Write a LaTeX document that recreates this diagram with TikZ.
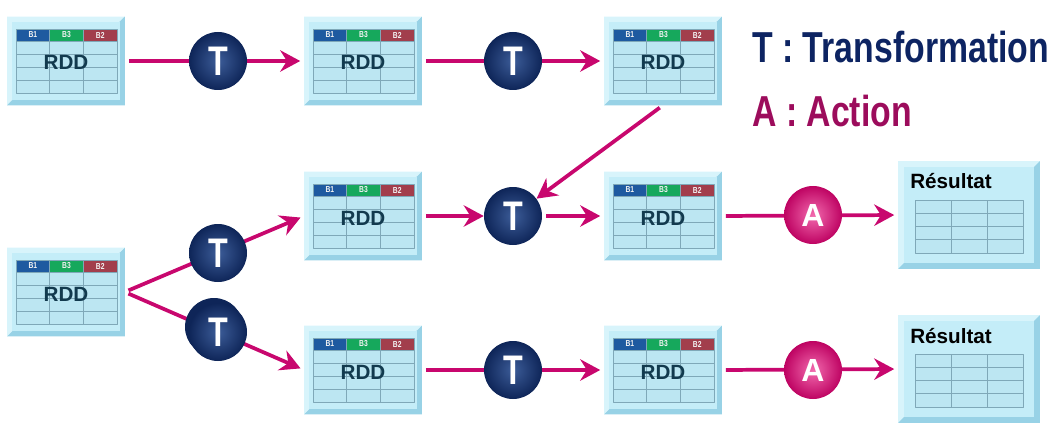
\documentclass[tikz,border=0pt]{standalone}
\usepackage{fontspec}
\setmainfont{Liberation Sans}
\newfontfamily\narrowsans[FakeStretch=0.78]{Liberation Sans}
\usetikzlibrary{arrows.meta,backgrounds,calc}
\definecolor{rddframe}{HTML}{B4E4F2}
\definecolor{rddlight}{HTML}{D8F4FB}
\definecolor{rdddark}{HTML}{98D2E6}
\definecolor{rddface}{HTML}{C4EDF8}
\definecolor{rddcell}{HTML}{BCE6F2}
\definecolor{rddline}{HTML}{7FA8B8}
\definecolor{rddtext}{HTML}{123A4E}
\definecolor{hblue}{HTML}{1E5AA0}
\definecolor{hgreen}{HTML}{16A85C}
\definecolor{hred}{HTML}{A23E4C}
\definecolor{flowpink}{HTML}{C8076E}
\definecolor{tinner}{HTML}{3C5C98}
\definecolor{touter}{HTML}{0E2558}
\definecolor{ainner}{HTML}{F26AAE}
\definecolor{aouter}{HTML}{BE0362}
\definecolor{legT}{HTML}{0D2462}
\definecolor{legA}{HTML}{9C0C5C}
\begin{document}
\begin{tikzpicture}[x=0.75pt,y=-0.75pt,>={Stealth[length=15pt,width=16pt,inset=5pt]},line join=round]
	\tikzset{
		rdd/.style={rectangle,minimum width=117*0.75pt,minimum height=88*0.75pt,inner sep=0pt,fill=rddframe},
		res/.style={rdd,minimum width=141*0.75pt,minimum height=107*0.75pt},
		cell/.style={fill=rddcell,draw=rddline,line width=0.5pt},
		hdr/.style={minimum width=33.7*0.75pt,minimum height=12*0.75pt,inner sep=0pt,draw=rddline,line width=0.5pt,text=white!90!gray,font=\narrowsans\bfseries\fontsize{6.5}{7}\selectfont},
		flow/.style={->,draw=flowpink,line width=2.8pt,shorten >=3pt,shorten <=3pt},
		trans/.style={circle,minimum size=58*0.75pt,inner sep=0pt,shading=radial,inner color=tinner,outer color=touter,text=white,font=\narrowsans\bfseries\fontsize{31}{31}\selectfont},
		act/.style={trans,inner color=ainner,outer color=aouter,font=\bfseries\fontsize{24}{24}\selectfont},
		legend/.style={anchor=base west,inner sep=0pt,font=\narrowsans\bfseries\fontsize{32.5}{34}\selectfont}
	}
	\useasboundingbox (0,0) rectangle (1058,435);
	% RDD boxes
	\foreach \n/\x/\y in {r11/66/61,r12/363/61,r13/663/61,r22/363/216,r23/663/216,r0/66/292,r32/363/370,r33/663/370}{
		\node[rdd] (\n) at (\x,\y) {};
		\fill[rddlight] (\n.north west) -- (\n.north east) -- ++(-5,5) -- ($(\n.south west)+(5,-5)$) -- (\n.south west) -- cycle;
		\fill[rdddark] (\n.south east) -- (\n.north east) -- ++(-5,5) -- ($(\n.south west)+(5,-5)$) -- (\n.south west) -- cycle;
		\fill[rddface] ($(\n.north west)+(5,5)$) rectangle ($(\n.south east)+(-5,-5)$);
		\foreach \c in {0,1,2}
		\foreach \r in {0,...,3}
		\draw[cell] ($(\n)+(-50+33.7*\c,-20+13*\r)$) rectangle +(33.7,13);
		\foreach \c/\col/\t in {0/hblue/B1,1/hgreen/B3,2/hred/B2}
		\node[hdr,fill=\col] (\n-h\c) at ($(\n)+(-33.15+33.7*\c,-26)$) {\t};
		\node[anchor=base,inner sep=0pt,text=rddtext,font=\bfseries\fontsize{15.5}{16}\selectfont] (\n-t) at ($(\n)+(0,9)$) {RDD};
	}
	% result boxes
	\foreach \n/\y in {res2/215,res3/369}{
		\node[res] (\n) at (969,\y) {};
		\fill[rddlight] (\n.north west) -- (\n.north east) -- ++(-6,6) -- ($(\n.south west)+(6,-6)$) -- (\n.south west) -- cycle;
		\fill[rdddark] (\n.south east) -- (\n.north east) -- ++(-6,6) -- ($(\n.south west)+(6,-6)$) -- (\n.south west) -- cycle;
		\fill[rddface] ($(\n.north west)+(6,6)$) rectangle ($(\n.south east)+(-6,-6)$);
		\foreach \c in {0,1,2}
		\foreach \r in {0,...,3}
		\draw[cell] ($(\n)+(-54+36*\c,-15+13.25*\r)$) rectangle +(36,13.25);
		\node[anchor=base west,inner sep=0pt,font=\bfseries\fontsize{15.5}{16}\selectfont] (\n-t) at ($(\n)+(-59,-26)$) {Résultat};
	}
	% T and A
	\fill[touter] (214,327) circle (29);
	\node[trans] (t1) at (218,61) {T};
	\node[trans] (t2) at (513,61) {T};
	\node[trans] (t3) at (218,253) {T};
	\node[trans] (t4) at (218,332) {T};
	\node[trans] (t5) at (513,216) {T};
	\node[trans] (t6) at (513,370) {T};
	\node[act] (a1) at (813,215) {A};
	\node[act] (a2) at (813,370) {A};
	\node[legend,text=legT] (legT) at (752,63) {T : Transformation};
	\node[legend,text=legA] (legA) at (752,127) {A : Action};
	\begin{scope}[on background layer]
		\draw[flow] (r11.east) -- (r12.west);
		\draw[flow] (r12.east) -- (r13.west);
		\draw[flow] (r0.east) -- (r22.west);
		\draw[flow] (r0.east) -- (r32.west);
		\draw[flow,shorten >=0pt] (r22.east) -- (t5);
		\draw[flow] (t5) -- (r23.west);
		\draw[flow,shorten >=0pt] (r13.south) -- (t5);
		\draw[flow] (r23.east) -- (res2.west);
		\draw[flow] (r32.east) -- (r33.west);
		\draw[flow] (r33.east) -- (res3.west);
	\end{scope}
\end{tikzpicture}
\end{document}
